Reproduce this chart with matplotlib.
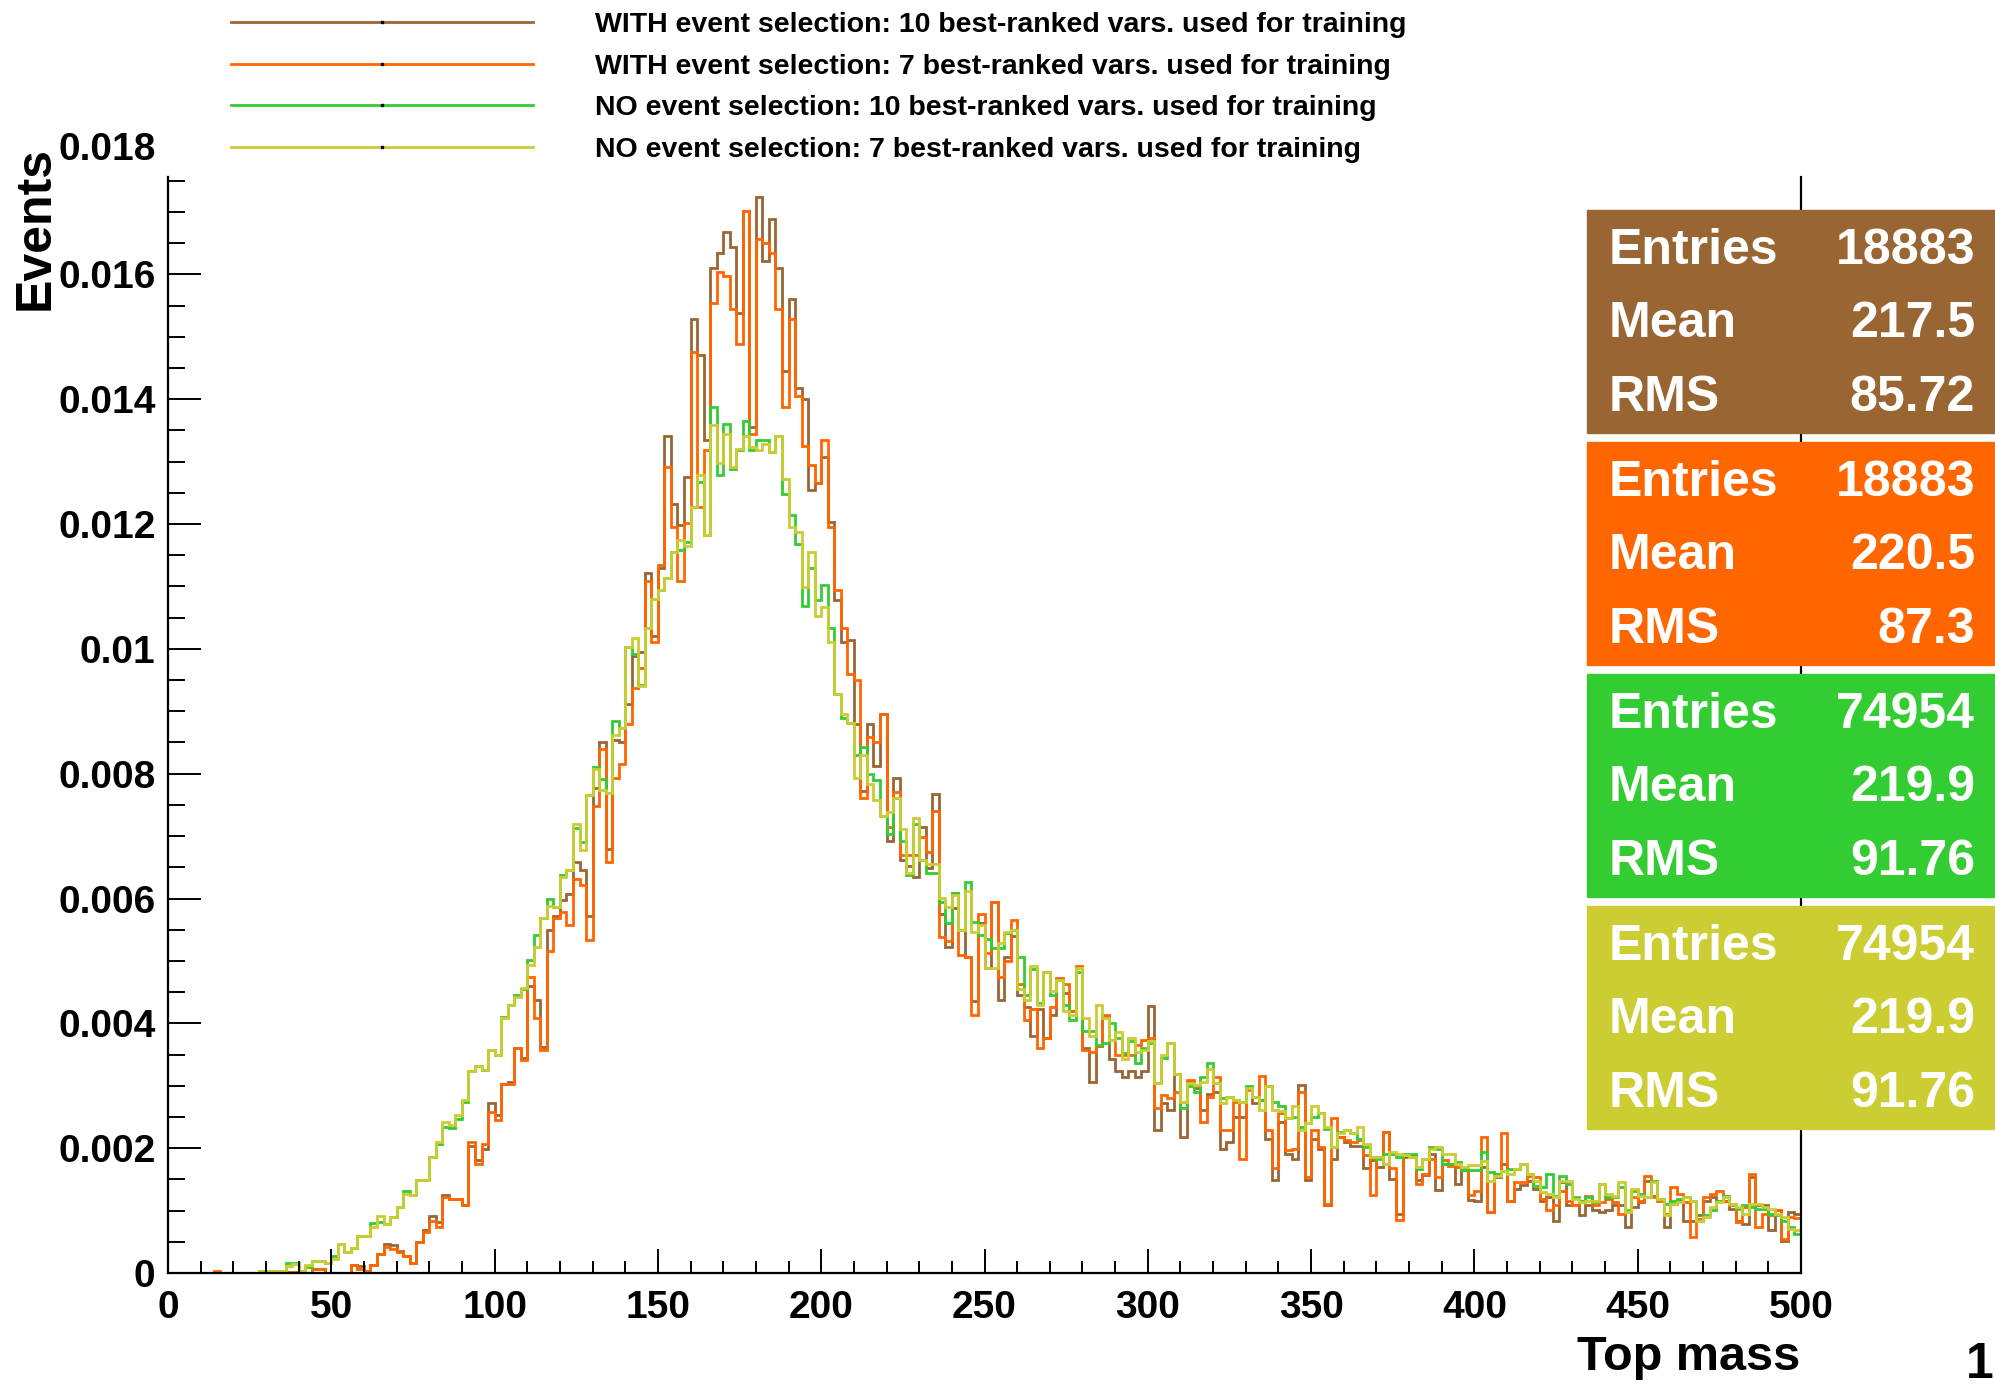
import matplotlib
matplotlib.use("Agg")
import matplotlib.pyplot as plt
import numpy as np
from matplotlib.lines import Line2D
from matplotlib.patches import Rectangle
from matplotlib.ticker import MultipleLocator, FuncFormatter

# histogram contents, 250 bins of width 2 from 0 to 500, in units of 1e-3
with_sel_10 = [
    0, 0, 0, 0, 0, 0, 0, 0.02, 0, 0,
    0, 0, 0, 0, 0.03, 0.03, 0.03, 0.03, 0.02, 0.02,
    0.02, 0, 0.06, 0.06, 0, 0, 0, 0, 0.13, 0.12,
    0.04, 0.13, 0.30, 0.47, 0.45, 0.36, 0.28, 0.16, 0.50, 0.69,
    0.91, 0.82, 1.25, 1.18, 1.18, 1.09, 2.03, 1.81, 1.99, 2.72,
    2.53, 3.03, 3.06, 3.60, 3.45, 4.60, 4.37, 3.62, 5.49, 5.72,
    5.97, 6.08, 6.58, 6.46, 5.72, 7.77, 8.51, 6.80, 8.54, 8.51,
    9.12, 9.89, 9.95, 11.22, 10.20, 11.30, 13.41, 12.32, 11.99, 12.75,
    15.28, 14.71, 13.35, 16.11, 16.34, 16.68, 16.44, 15.38, 17.02, 13.55,
    17.24, 16.21, 16.89, 16.11, 14.45, 15.61, 14.18, 14.01, 12.55, 12.65,
    13.08, 12.04, 10.79, 10.11, 10.14, 8.79, 7.72, 8.79, 8.13, 8.96,
    6.92, 7.93, 6.61, 6.52, 6.35, 7.15, 6.49, 7.67, 5.75, 5.23,
    5.84, 5.49, 5.06, 4.35, 5.61, 4.89, 5.95, 4.37, 5.06, 5.40,
    4.46, 4.26, 3.80, 4.23, 3.77, 4.14, 4.69, 4.49, 4.20, 4.89,
    3.60, 3.06, 3.63, 4.11, 3.43, 3.23, 3.14, 3.23, 3.14, 3.23,
    4.28, 2.29, 2.72, 2.61, 3.19, 2.18, 3.06, 2.96, 2.61, 2.87,
    2.90, 1.99, 2.10, 2.50, 2.50, 2.96, 2.72, 2.77, 2.15, 1.49,
    2.42, 1.91, 1.83, 3.01, 1.49, 2.15, 1.99, 1.09, 1.83, 2.18,
    2.10, 2.04, 2.04, 1.68, 1.81, 1.70, 2.26, 1.51, 0.95, 1.86,
    1.89, 1.49, 1.57, 1.91, 1.33, 1.75, 1.75, 1.43, 1.65, 1.17,
    1.16, 1.70, 0.98, 1.54, 1.75, 1.16, 1.35, 1.41, 1.48, 1.35,
    1.16, 1.22, 0.84, 1.46, 1.09, 1.09, 0.93, 1.09, 1.01, 0.98,
    1.01, 1.09, 1.09, 0.74, 1.06, 1.14, 1.48, 1.24, 1.19, 0.74,
    1.11, 1.16, 0.84, 0.84, 0.93, 1.16, 1.22, 1.16, 1.16, 1.03,
    0.84, 0.79, 1.54, 1.09, 1.09, 0.69, 1.01, 0.52, 0.98, 0.95,
]

with_sel_7 = [
    0, 0, 0, 0, 0, 0, 0, 0.03, 0, 0,
    0, 0, 0, 0, 0.03, 0.03, 0.03, 0.03, 0.02, 0.02,
    0.02, 0, 0.07, 0.07, 0, 0, 0, 0, 0.13, 0.07,
    0.04, 0.13, 0.30, 0.42, 0.39, 0.34, 0.28, 0.16, 0.50, 0.66,
    0.84, 0.74, 1.22, 1.18, 1.18, 1.09, 2.10, 1.75, 2.07, 2.58,
    2.45, 3.03, 3.03, 3.60, 3.41, 4.75, 4.08, 3.57, 5.16, 5.69,
    5.78, 5.58, 6.32, 6.21, 5.33, 7.49, 8.40, 6.58, 7.93, 8.15,
    8.79, 9.37, 9.70, 11.08, 10.11, 11.35, 12.92, 11.95, 11.09, 12.02,
    14.75, 12.28, 13.18, 15.54, 16.04, 15.97, 15.44, 14.89, 17.02, 13.45,
    16.56, 16.51, 16.34, 15.44, 13.88, 15.28, 14.05, 13.25, 12.95, 12.65,
    13.35, 11.95, 10.95, 10.34, 9.60, 9.50, 7.61, 8.59, 8.50, 8.96,
    7.15, 7.70, 6.69, 6.69, 6.69, 6.98, 6.75, 7.41, 5.38, 5.32,
    6.09, 5.09, 5.06, 4.14, 5.75, 5.12, 5.95, 4.75, 5.00, 5.66,
    4.63, 4.06, 4.23, 3.60, 3.77, 4.26, 4.72, 4.63, 4.20, 4.92,
    3.57, 3.54, 3.63, 4.14, 3.74, 3.49, 3.49, 3.49, 3.66, 3.74,
    3.76, 2.64, 2.85, 2.80, 2.90, 2.74, 3.09, 2.99, 2.42, 2.82,
    3.14, 2.29, 2.29, 2.74, 1.83, 2.93, 2.82, 3.16, 2.29, 1.68,
    2.56, 1.97, 1.99, 2.90, 1.54, 2.29, 2.02, 1.11, 2.48, 2.18,
    2.13, 2.10, 2.13, 1.89, 1.25, 1.86, 2.26, 1.68, 0.85, 1.89,
    1.86, 1.43, 1.59, 1.83, 1.54, 1.81, 1.72, 1.70, 1.67, 1.25,
    1.32, 2.18, 0.98, 1.59, 2.24, 1.16, 1.46, 1.46, 1.56, 1.54,
    1.19, 1.01, 1.09, 1.32, 1.16, 1.09, 1.16, 1.24, 1.09, 1.14,
    1.19, 1.14, 0.95, 0.98, 1.22, 1.16, 1.56, 1.22, 1.16, 0.95,
    1.38, 1.27, 1.14, 0.58, 0.87, 1.22, 1.27, 1.32, 1.16, 1.09,
    0.82, 1.06, 1.59, 0.74, 0.95, 0.93, 1.01, 0.55, 0.90, 0.88,
]

no_sel_10 = [
    0, 0, 0, 0, 0, 0, 0, 0, 0, 0,
    0, 0, 0, 0, 0.03, 0.03, 0.03, 0.03, 0.16, 0.16,
    0.04, 0.09, 0.20, 0.20, 0.16, 0.27, 0.47, 0.34, 0.40, 0.60,
    0.60, 0.80, 0.82, 0.79, 0.90, 1.06, 1.32, 1.25, 1.49, 1.49,
    1.86, 2.06, 2.34, 2.33, 2.47, 2.74, 3.23, 3.31, 3.25, 3.57,
    3.49, 4.10, 4.30, 4.45, 4.55, 5.02, 5.41, 5.69, 5.99, 5.86,
    6.38, 6.46, 7.13, 6.91, 7.66, 8.10, 7.91, 7.69, 8.84, 8.73,
    10.03, 9.92, 9.42, 10.33, 10.80, 10.95, 11.13, 11.55, 11.58, 11.72,
    12.28, 12.68, 11.82, 13.88, 12.78, 13.61, 12.88, 13.18, 13.65, 13.18,
    13.35, 13.35, 13.15, 13.41, 12.48, 12.15, 11.68, 10.69, 11.29, 10.79,
    11.02, 10.34, 9.27, 8.90, 8.81, 8.30, 8.42, 7.99, 7.90, 7.32,
    7.04, 7.61, 6.92, 6.38, 7.20, 6.61, 6.41, 6.41, 5.95, 5.61,
    6.09, 5.49, 6.27, 5.63, 5.41, 5.35, 5.20, 5.20, 5.44, 5.49,
    5.06, 4.46, 4.87, 4.32, 4.83, 4.46, 4.69, 4.29, 4.06, 4.83,
    3.88, 3.88, 3.66, 3.69, 4.00, 3.77, 3.52, 3.72, 3.37, 3.60,
    3.68, 3.04, 3.44, 3.68, 3.19, 2.64, 2.99, 2.90, 3.14, 3.36,
    3.04, 2.80, 2.82, 2.77, 2.74, 2.99, 2.82, 2.77, 2.99, 2.74,
    2.67, 2.48, 2.50, 2.34, 2.40, 2.50, 2.56, 2.31, 2.02, 2.26,
    2.29, 2.24, 2.15, 2.02, 1.86, 1.83, 1.91, 1.91, 1.86, 1.91,
    1.91, 1.67, 1.83, 2.02, 1.99, 1.75, 1.75, 1.78, 1.65, 1.65,
    1.65, 1.94, 1.62, 1.59, 1.64, 1.67, 1.67, 1.75, 1.59, 1.40,
    1.38, 1.59, 1.24, 1.56, 1.43, 1.22, 1.16, 1.22, 1.14, 1.43,
    1.22, 1.22, 1.38, 1.01, 1.32, 1.27, 1.22, 1.48, 1.19, 1.11,
    1.16, 1.19, 1.22, 1.16, 0.84, 0.93, 1.01, 1.16, 1.24, 1.11,
    1.03, 1.09, 1.06, 1.03, 1.03, 0.95, 0.93, 0.84, 0.74, 0.63,
]

no_sel_7 = [
    0, 0, 0, 0, 0, 0, 0, 0, 0, 0,
    0, 0, 0, 0, 0.03, 0.03, 0.03, 0.03, 0.12, 0.14,
    0.04, 0.13, 0.20, 0.20, 0.16, 0.23, 0.47, 0.34, 0.40, 0.60,
    0.60, 0.74, 0.91, 0.79, 0.90, 1.06, 1.27, 1.25, 1.49, 1.49,
    1.86, 2.10, 2.42, 2.37, 2.53, 2.77, 3.23, 3.31, 3.25, 3.57,
    3.49, 4.08, 4.29, 4.43, 4.56, 4.94, 5.22, 5.69, 5.88, 5.86,
    6.35, 6.46, 7.19, 6.77, 7.66, 8.07, 7.74, 7.69, 8.62, 8.73,
    10.03, 10.17, 9.40, 10.33, 10.80, 10.95, 11.13, 11.55, 11.75, 11.65,
    12.28, 12.78, 11.82, 13.58, 12.98, 13.45, 12.92, 13.21, 13.41, 13.23,
    13.18, 13.28, 13.15, 13.41, 12.72, 11.95, 11.88, 10.99, 11.55, 10.52,
    10.67, 10.11, 9.27, 8.96, 8.81, 7.93, 8.30, 7.84, 7.58, 7.32,
    7.38, 7.61, 7.12, 6.41, 7.29, 6.61, 6.55, 6.55, 6.01, 5.86,
    6.06, 5.49, 6.12, 5.46, 5.58, 4.89, 4.89, 5.29, 5.46, 5.49,
    4.55, 4.37, 4.92, 4.29, 4.83, 4.52, 4.69, 4.20, 4.14, 4.89,
    4.09, 3.80, 4.29, 4.09, 3.74, 3.86, 3.43, 3.77, 3.54, 3.57,
    3.71, 3.04, 3.49, 3.68, 3.19, 2.74, 3.04, 3.01, 3.06, 3.27,
    3.04, 2.72, 2.82, 2.77, 2.74, 2.96, 2.82, 2.61, 2.99, 2.61,
    2.59, 2.48, 2.67, 2.29, 2.40, 2.67, 2.56, 2.34, 2.02, 2.24,
    2.29, 2.24, 2.34, 2.07, 1.86, 1.86, 1.75, 1.94, 1.91, 1.89,
    1.86, 1.70, 1.83, 1.99, 2.02, 1.91, 1.91, 1.75, 1.70, 1.73,
    1.73, 1.80, 1.48, 1.56, 1.64, 1.59, 1.67, 1.75, 1.59, 1.48,
    1.30, 1.27, 1.22, 1.48, 1.48, 1.19, 1.14, 1.16, 1.16, 1.43,
    1.27, 1.24, 1.46, 0.98, 1.35, 1.24, 1.22, 1.46, 1.19, 0.93,
    1.11, 1.14, 1.22, 1.16, 0.84, 0.90, 1.06, 1.14, 1.22, 1.11,
    1.06, 0.95, 1.11, 1.11, 1.06, 1.03, 0.95, 0.90, 0.71, 0.69,
]

labels = [
    "WITH event selection: 10 best-ranked vars. used for training",
    "WITH event selection: 7 best-ranked vars. used for training",
    "NO event selection: 10 best-ranked vars. used for training",
    "NO event selection: 7 best-ranked vars. used for training",
]
colors = ["#996633", "#ff6600", "#33cc33", "#cccc33"]
entries = ["18883", "18883", "74954", "74954"]
means = ["217.5", "220.5", "219.9", "219.9"]
rms = ["85.72", "87.3", "91.76", "91.76"]

plt.rcParams["font.family"] = ["Liberation Sans", "DejaVu Sans"]
plt.rcParams["font.weight"] = "bold"

W, H = 1995, 1385
fig = plt.figure(figsize=(W / 100, H / 100), dpi=100)
ax = fig.add_axes([168 / W, 1 - 1273 / H, (1801 - 168) / W, (1273 - 177) / H])

edges = np.linspace(0, 500, 251)
series = [with_sel_10, with_sel_7, no_sel_10, no_sel_7]
for vals, col in zip(series, colors):
    ax.stairs(np.array(vals) * 1e-3, edges, color=col, lw=2.0)

ax.set_xlim(0, 500)
ax.set_ylim(0, 0.01756)
ax.spines["top"].set_visible(False)
for s in ["left", "bottom", "right"]:
    ax.spines[s].set_linewidth(1.6)

ax.xaxis.set_major_locator(MultipleLocator(50))
ax.xaxis.set_minor_locator(MultipleLocator(10))
ax.yaxis.set_major_locator(MultipleLocator(0.002))
ax.yaxis.set_minor_locator(MultipleLocator(0.0005))
ax.yaxis.set_major_formatter(FuncFormatter(lambda v, p: "0" if v == 0 else "%g" % v))
ax.tick_params(direction="in", which="both", width=1.4, labelsize=28)
ax.tick_params(axis="x", which="major", length=17, pad=12)
ax.tick_params(axis="x", which="minor", length=9)
ax.tick_params(axis="y", which="major", length=24, pad=9)
ax.tick_params(axis="y", which="minor", length=12)
ax.tick_params(right=False, top=False, which="both")
for t in ax.get_xticklabels() + ax.get_yticklabels():
    t.set_fontweight("bold")

# ROOT prints the 0.018 label just above the frame
ax.annotate("0.018", xy=(0, 0.018), xycoords=("axes fraction", "data"),
            xytext=(-9, 0), textcoords="offset points", ha="right", va="center",
            fontsize=28, fontweight="bold", annotation_clip=False)

fig.text(36 / W, 1 - 146 / H, "Events", rotation=90, ha="center", va="top",
         fontsize=36, fontweight="bold")
fig.text(1800 / W, 1 - 1358 / H, "Top mass", ha="right", va="center",
         fontsize=35, fontweight="bold")
fig.text(1994 / W, 1 - 1365 / H, "1", ha="right", va="center",
         fontsize=36, fontweight="bold")

# legend
handles = [Line2D([], [], color=c, lw=2.0, marker="s", ms=2, mfc="k", mec="k")
           for c in colors]
fig.legend(handles, labels, loc="upper left", bbox_to_anchor=(231 / W, 1 - 12 / H),
           frameon=False, numpoints=1, borderpad=0, borderaxespad=0,
           handlelength=10.6, handletextpad=2.2, labelspacing=0.55,
           prop={"family": "Liberation Sans", "weight": "bold", "size": 20.5})

# stat boxes
box_x = 1587 / W
box_h = 223
for k in range(4):
    top = 210 + 232 * k
    fig.add_artist(Rectangle((box_x, 1 - (top + box_h) / H), 1 - box_x, box_h / H,
                             transform=fig.transFigure, color=colors[k], zorder=5))
    rows = [("Entries", entries[k]), ("Mean", means[k]), ("RMS", rms[k])]
    for (name, val), dy in zip(rows, [41, 114, 188]):
        y = 1 - (top + dy) / H
        fig.text(1609 / W, y, name, color="white", fontsize=36, fontweight="bold",
                 va="center", ha="left", zorder=6)
        fig.text(1975 / W, y, val, color="white", fontsize=36, fontweight="bold",
                 va="center", ha="right", zorder=6)

fig.savefig("out.png", dpi=100)
